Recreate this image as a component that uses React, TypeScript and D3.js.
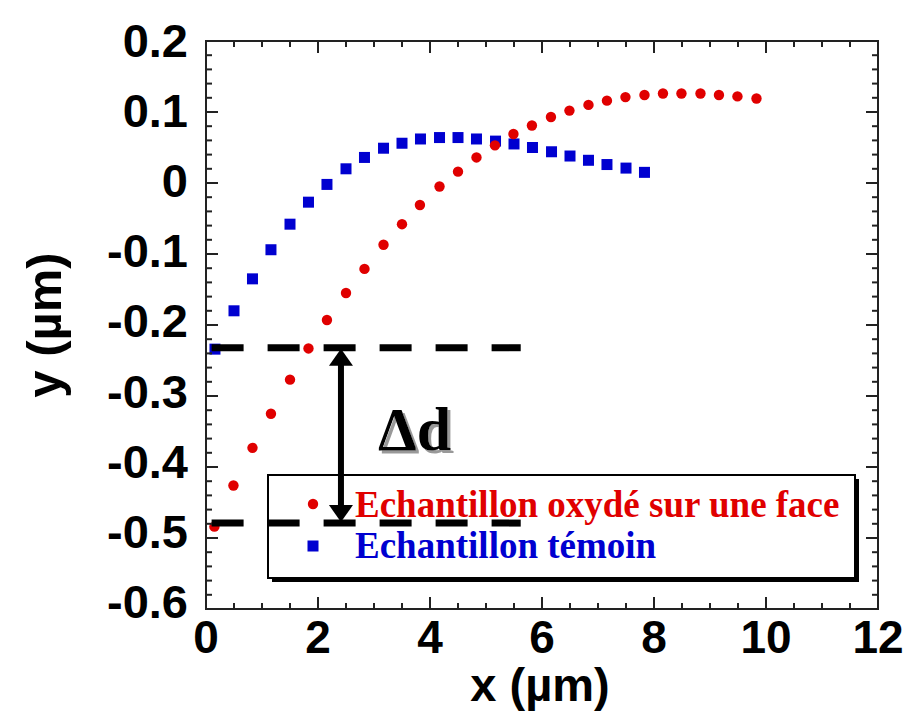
import React from "react";
import * as d3 from "d3";

// Series: Echantillon oxydé sur une face (red circles)
const xOxyde = [0.15, 0.49, 0.83, 1.16, 1.5, 1.83, 2.16, 2.5, 2.83, 3.17, 3.5, 3.82, 4.17, 4.5, 4.83, 5.16, 5.49, 5.82, 6.16, 6.49, 6.83, 7.16, 7.49, 7.83, 8.16, 8.49, 8.83, 9.16, 9.49, 9.83];
const yOxyde = [-0.484, -0.426, -0.373, -0.325, -0.277, -0.233, -0.193, -0.155, -0.121, -0.087, -0.058, -0.031, -0.005, 0.016, 0.036, 0.053, 0.069, 0.081, 0.093, 0.102, 0.11, 0.116, 0.121, 0.124, 0.126, 0.126, 0.126, 0.124, 0.122, 0.119];
// Series: Echantillon témoin (blue squares)
const xTemoin = [0.16, 0.5, 0.83, 1.16, 1.5, 1.83, 2.16, 2.5, 2.83, 3.17, 3.5, 3.83, 4.17, 4.5, 4.83, 5.17, 5.5, 5.83, 6.17, 6.5, 6.83, 7.16, 7.5, 7.83];
const yTemoin = [-0.234, -0.18, -0.135, -0.094, -0.058, -0.027, -0.002, 0.02, 0.036, 0.049, 0.056, 0.062, 0.064, 0.064, 0.062, 0.059, 0.055, 0.05, 0.044, 0.038, 0.032, 0.026, 0.021, 0.015];

const xTickLabels = ["0", "2", "4", "6", "8", "10", "12"];
const yTickLabels = ["0.2", "0.1", "0", "-0.1", "-0.2", "-0.3", "-0.4", "-0.5", "-0.6"];
const legendLabels = ["Echantillon oxydé sur une face", "Echantillon témoin"];

// annotation levels (data units)
const dashLevels = [-0.232, -0.479];
const dashXRange = [0.1, 5.62];
const arrowX = 2.41;

const RED = "#e00000";
const BLUE = "#0000d0";
const AXIS = "#222";

export default function App() {
  const left = 206, right = 878, top = 41, bottom = 609;
  const x = d3.scaleLinear().domain([0, 12]).range([left, right]);
  const y = d3.scaleLinear().domain([-0.6, 0.2]).range([bottom, top]);

  const xMajor = d3.range(0, 12.001, 2);
  const xMinor = d3.range(0, 12.001, 0.5).filter((v) => Math.abs(v / 2 - Math.round(v / 2)) > 1e-6);
  const yMajor = d3.range(-6, 2.001, 1).map((v) => v / 10);
  const yMinor = d3.range(-30, 10.001, 1).map((v) => v / 50).filter((v) => Math.abs(v * 10 - Math.round(v * 10)) > 1e-6);

  const ticks: JSX.Element[] = [];
  const addX = (v: number, len: number, k: string) => {
    ticks.push(<line key={"xb" + k} x1={x(v)} x2={x(v)} y1={bottom} y2={bottom - len} stroke={AXIS} strokeWidth={2} />);
    ticks.push(<line key={"xt" + k} x1={x(v)} x2={x(v)} y1={top} y2={top + len} stroke={AXIS} strokeWidth={2} />);
  };
  const addY = (v: number, len: number, k: string) => {
    ticks.push(<line key={"yl" + k} x1={left} x2={left + len} y1={y(v)} y2={y(v)} stroke={AXIS} strokeWidth={2} />);
    ticks.push(<line key={"yr" + k} x1={right} x2={right - len} y1={y(v)} y2={y(v)} stroke={AXIS} strokeWidth={2} />);
  };
  xMajor.forEach((v, i) => addX(v, 12, "M" + i));
  xMinor.forEach((v, i) => addX(v, 6, "m" + i));
  yMajor.forEach((v, i) => addY(v, 12, "M" + i));
  yMinor.forEach((v, i) => addY(v, 6, "m" + i));

  const sq = 11;
  const ax = x(arrowX);
  const yTop = y(dashLevels[0]);
  const yBot = y(dashLevels[1]);
  const head = 17, hw = 12;

  const lgX = 268, lgY = 475, lgW = 587, lgH = 103;
  const sans = "'Liberation Sans', Arial, sans-serif";
  const serif = "'Liberation Serif', 'Times New Roman', serif";

  return (
    <svg width={910} height={713} style={{ position: "absolute", left: 0, top: 0, background: "#fff" }}>
      <defs>
        <filter id="dshadow" x="-10%" y="-10%" width="130%" height="130%">
          <feDropShadow dx={3} dy={3} stdDeviation={0.4} floodColor="#999" floodOpacity={1} />
        </filter>
      </defs>
      <rect x={0} y={0} width={910} height={713} fill="#fff" />
      {/* points */}
      {xTemoin.map((v, i) => (
        <rect key={"t" + i} x={x(v) - sq / 2} y={y(yTemoin[i]) - sq / 2} width={sq} height={sq} fill={BLUE} />
      ))}
      {xOxyde.map((v, i) => (
        <circle key={"o" + i} cx={x(v)} cy={y(yOxyde[i])} r={5.2} fill={RED} />
      ))}
      {/* legend */}
      <rect x={lgX + 4} y={lgY + 4} width={lgW} height={lgH} fill="#000" />
      <rect x={lgX} y={lgY} width={lgW} height={lgH} fill="#fff" stroke="#000" strokeWidth={2} />
      <circle cx={313} cy={504} r={5.2} fill={RED} />
      <rect x={313 - 5.5} y={546 - 5.5} width={11} height={11} fill={BLUE} />
      <text x={355} y={517} fill={RED} fontFamily={serif} fontWeight="bold" fontSize={37}>{legendLabels[0]}</text>
      <text x={355} y={558} fill={BLUE} fontFamily={serif} fontWeight="bold" fontSize={37}>{legendLabels[1]}</text>
      {/* dashed lines */}
      {dashLevels.map((lv, i) => (
        <line key={"d" + i} x1={x(dashXRange[0])} x2={x(dashXRange[1])} y1={y(lv)} y2={y(lv)} stroke="#000" strokeWidth={7} strokeDasharray="32 24" />
      ))}
      {/* double arrow */}
      <line x1={ax} x2={ax} y1={yTop + head} y2={yBot - head} stroke="#000" strokeWidth={6} />
      <path d={`M${ax},${yTop + 1} L${ax - hw},${yTop + 1 + head} L${ax + hw},${yTop + 1 + head} Z`} fill="#000" />
      <path d={`M${ax},${yBot - 1} L${ax - hw},${yBot - 1 - head} L${ax + hw},${yBot - 1 - head} Z`} fill="#000" />
      {/* Delta d */}
      <text x={378} y={450} fill="#000" filter="url(#dshadow)" fontFamily={serif} fontWeight="bold" fontSize={62}>Δd</text>
      {/* frame */}
      <rect x={left} y={top} width={right - left} height={bottom - top} fill="none" stroke={AXIS} strokeWidth={2} />
      {ticks}
      {/* tick labels */}
      {xMajor.map((v, i) => (
        <text key={"xl" + i} x={x(v)} y={653} textAnchor="middle" fontFamily={sans} fontWeight="bold" fontSize={46}>{xTickLabels[i]}</text>
      ))}
      {yMajor.slice().reverse().map((v, i) => (
        <text key={"yl" + i} x={188} y={y(v) + 16 - i * 0.9} textAnchor="end" fontFamily={sans} fontWeight="bold" fontSize={47}>{yTickLabels[i]}</text>
      ))}
      {/* axis titles */}
      <text x={540} y={701} textAnchor="middle" fontFamily={sans} fontWeight="bold" fontSize={47}>x (µm)</text>
      <text transform={`translate(61,${y(-0.2)}) rotate(-90)`} textAnchor="middle" fontFamily={sans} fontWeight="bold" fontSize={49}>y (µm)</text>
    </svg>
  );
}
